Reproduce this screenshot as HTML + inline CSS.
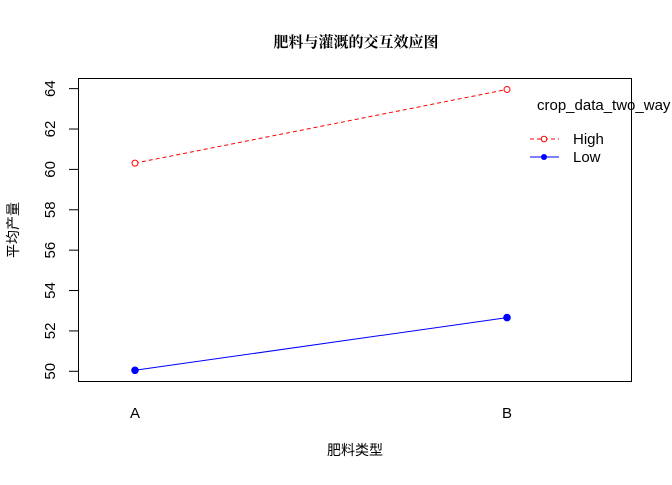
<!DOCTYPE html>
<html><head><meta charset="utf-8"><style>body{margin:0;background:#fff}svg text{font-family:"Liberation Sans","Noto Sans CJK SC",sans-serif}</style></head>
<body>
<svg id="chart" width="672" height="480" xmlns="http://www.w3.org/2000/svg">
<text x="356" y="47" text-anchor="middle" font-size="15" font-weight="bold" style="font-family:'Noto Serif CJK SC',serif">肥料与灌溉的交互效应图</text>
<rect x="78.5" y="78.5" width="553" height="303" fill="none" stroke="#000"/>
<g id="yaxis"></g>
<g id="xaxis"></g>
<g id="series"></g>
<text x="355" y="455" text-anchor="middle" font-size="14">肥料类型</text>
<text transform="translate(18,230) rotate(-90)" text-anchor="middle" font-size="14">平均产量</text>
<text x="537" y="110" font-size="15">crop_data_two_way</text>
<g>
<line x1="530" y1="139" x2="559" y2="139" stroke="red" stroke-dasharray="4,3"/>
<circle cx="544" cy="139" r="2.8" fill="#fff" stroke="red"/>
<text x="573" y="144" font-size="15">High</text></g>
<g>
<line x1="530" y1="157" x2="559" y2="157" stroke="blue"/>
<circle cx="544" cy="157" r="3" fill="blue"/>
<text x="573" y="162" font-size="15">Low</text></g>
</svg>
<script>
const categories=["A","B"];
const highValues=[60.31,63.96];
const lowValues=[50.05,52.66];
const yTicks=[50,52,54,56,58,60,62,64];
const NS="http://www.w3.org/2000/svg";
const xs=i=>135+i*372;
const ys=v=>371.3-(v-50)*20.19;
function mk(t,a,p){const e=document.createElementNS(NS,t);for(const k in a)e.setAttribute(k,a[k]);p.appendChild(e);return e;}
const ya=document.getElementById('yaxis');
yTicks.forEach(v=>{const y=ys(v);
const l=mk('line',{x1:69,x2:78.5,y1:y,y2:y,stroke:'#000'},ya);


const t=mk('text',{transform:`translate(55,${y}) rotate(-90)`,'text-anchor':'middle','font-size':15},ya);
t.textContent=v;

});
const xa=document.getElementById('xaxis');
categories.forEach((c,i)=>{const t=mk('text',{x:xs(i),y:418,'text-anchor':'middle','font-size':15},xa);t.textContent=c;

});
const sg=document.getElementById('series');
function draw(vals,color,dash,filled,name){
const pl=mk('polyline',{points:vals.map((v,i)=>xs(i)+','+ys(v)).join(' '),fill:'none',stroke:color,'stroke-dasharray':dash},sg);


vals.forEach((v,i)=>{const c=mk('circle',{cx:xs(i),cy:ys(v),r:filled?3.3:3,fill:filled?color:'#fff',stroke:color},sg);

});}
draw(highValues,'red','4,3',false,'high');
draw(lowValues,'blue','none',true,'low');
</script>
</body></html>
